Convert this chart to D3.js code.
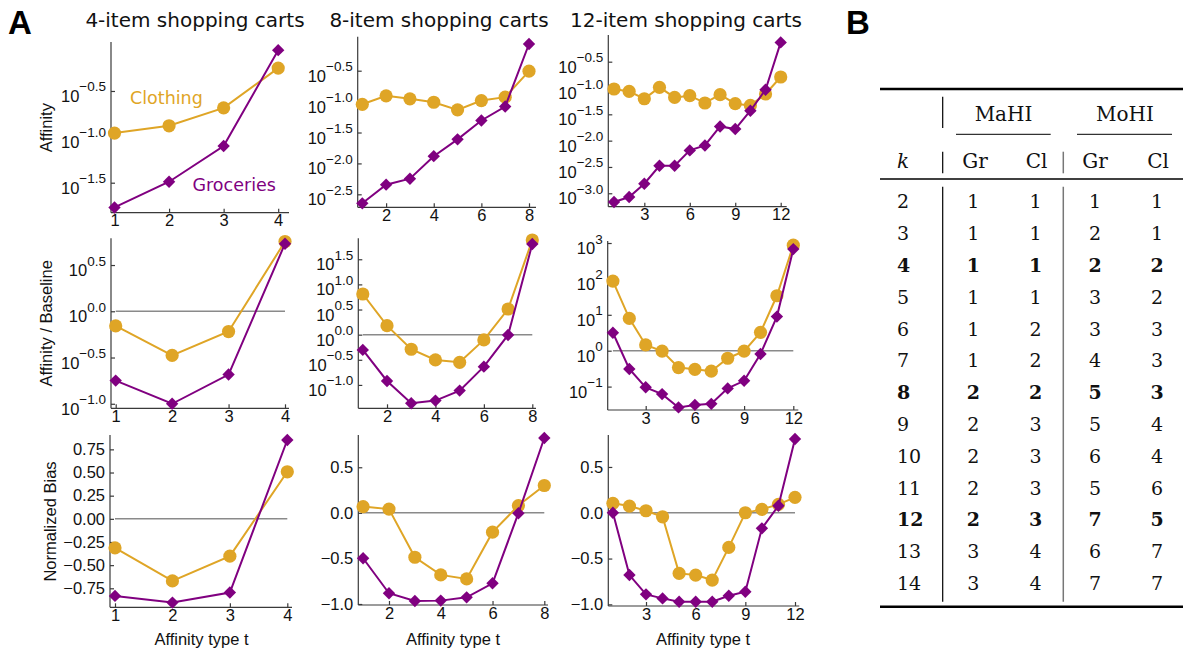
<!DOCTYPE html>
<html><head><meta charset="utf-8">
<script src="https://cdn.jsdelivr.net/npm/d3@7"></script>
<style>body{margin:0;background:#fff}svg{display:block}</style>
</head><body>
<svg id="c" width="1183" height="648"></svg>
<script>
// ---------------- data ----------------
const types4 = [1, 2, 3, 4];
const types8 = [1, 2, 3, 4, 5, 6, 7, 8];
const types12 = [1, 2, 3, 4, 5, 6, 7, 8, 9, 10, 11, 12];
const cartTitles = ["4-item shopping carts", "8-item shopping carts", "12-item shopping carts"];
const rowLabels = ["Affinity", "Affinity / Baseline", "Normalized Bias"];
const seriesNames = ["Clothing", "Groceries"];

const cart4AffinityClothing = [0.110, 0.132, 0.207, 0.562];
const cart4AffinityGroceries = [0.0170, 0.0324, 0.0794, 0.881];
const cart8AffinityClothing = [0.0904, 0.124, 0.111, 0.0977, 0.0735, 0.104, 0.118, 0.311];
const cart8AffinityGroceries = [0.00226, 0.00453, 0.00566, 0.0131, 0.0245, 0.0495, 0.0832, 0.855];
const cart12AffinityClothing = [0.0957, 0.0861, 0.0625, 0.103, 0.0662, 0.0714, 0.0519, 0.0746, 0.0504, 0.0467, 0.0769, 0.162];
const cart12AffinityGroceries = [0.000681, 0.000847, 0.00152, 0.00333, 0.00333, 0.00652, 0.00811, 0.0186, 0.0166, 0.0370, 0.0929, 0.736];

const cart4RatioClothing = [0.695, 0.333, 0.604, 5.68];
const cart4RatioGroceries = [0.178, 0.100, 0.207, 5.38];
const cart8RatioClothing = [6.44, 1.51, 0.513, 0.314, 0.282, 0.785, 3.24, 76.4];
const cart8RatioGroceries = [0.497, 0.120, 0.0433, 0.0488, 0.0771, 0.231, 0.986, 63.5];
const cart12RatioClothing = [87.1, 7.94, 1.45, 0.977, 0.339, 0.302, 0.269, 0.617, 0.977, 3.24, 33.9, 871];
const cart12RatioGroceries = [3.16, 0.309, 0.0955, 0.0617, 0.0263, 0.0309, 0.0331, 0.0891, 0.145, 0.813, 8.91, 676];

const cart4BiasClothing = [-0.313, -0.670, -0.403, 0.508];
const cart4BiasGroceries = [-0.832, -0.904, -0.796, 0.851];
const cart8BiasClothing = [0.069, 0.041, -0.487, -0.681, -0.725, -0.212, 0.080, 0.300];
const cart8BiasGroceries = [-0.498, -0.882, -0.967, -0.963, -0.927, -0.773, -0.004, 0.821];
const cart12BiasClothing = [0.103, 0.073, 0.022, -0.044, -0.662, -0.680, -0.735, -0.378, 0.0, 0.037, 0.092, 0.168];
const cart12BiasGroceries = [0.0, -0.680, -0.891, -0.935, -0.972, -0.972, -0.972, -0.906, -0.862, -0.170, 0.076, 0.805];

// x tick labels
const xTicks4 = [1, 2, 3, 4];
const xTicks8 = [2, 4, 6, 8];
const xTicks12 = [3, 6, 9, 12];
// y tick labels (exponents of 10 for log panels)
const affinityExpTicks4 = [-1.5, -1.0, -0.5];
const affinityExpTicks8 = [-2.5, -2.0, -1.5, -1.0, -0.5];
const affinityExpTicks12 = [-3.0, -2.5, -2.0, -1.5, -1.0, -0.5];
const ratioExpTicks4 = [-1.0, -0.5, 0.0, 0.5];
const ratioExpTicks8 = [-1.0, -0.5, 0.0, 0.5, 1.0, 1.5];
const ratioExpTicks12 = [-1, 0, 1, 2, 3];
const biasTicks4 = [-0.75, -0.5, -0.25, 0, 0.25, 0.5, 0.75];
const biasTicks8 = [-1.0, -0.5, 0.0, 0.5];
const biasTicks12 = [-1.0, -0.5, 0.0, 0.5];

// table
const tableK = [2, 3, 4, 5, 6, 7, 8, 9, 10, 11, 12, 13, 14];
const mahiGr = [1, 1, 1, 1, 1, 1, 2, 2, 2, 2, 2, 3, 3];
const mahiCl = [1, 1, 1, 1, 2, 2, 2, 3, 3, 3, 3, 4, 4];
const mohiGr = [1, 2, 2, 3, 3, 4, 5, 5, 6, 5, 7, 6, 7];
const mohiCl = [1, 1, 2, 2, 3, 3, 3, 4, 4, 6, 5, 7, 7];
const boldK = [4, 8, 12];

// ---------------- style / layout ----------------
const GOLD = "#DFA526", PURPLE = "#800080";
const SANS = "'Liberation Sans', Arial, sans-serif";
const VERD = "'DejaVu Sans', Verdana, sans-serif";
const SERIF = "'DejaVu Serif', serif";
const AXIS = "#3a3a3a";

const svg = d3.select("#c");

const panels = [
  {t: types4, cl: cart4AffinityClothing, gr: cart4AffinityGroceries, kind: "log", yt: affinityExpTicks4, xt: xTicks4, fmt: ".1f",
   left: 111, right: 289, top: 42, bottom: 212.7, padL: 3.5, padR: 10.8, yDom: [-1.827, 0.034]},
  {t: types8, cl: cart8AffinityClothing, gr: cart8AffinityGroceries, kind: "log", yt: affinityExpTicks8, xt: xTicks8, fmt: ".1f",
   left: 357.7, right: 536, top: 36.7, bottom: 207.3, padL: 4.6, padR: 7, yDom: [-2.71, 0.05]},
  {t: types12, cl: cart12AffinityClothing, gr: cart12AffinityGroceries, kind: "log", yt: affinityExpTicks12, xt: xTicks12, fmt: ".1f",
   left: 608.3, right: 786.7, top: 35, bottom: 206.7, padL: 5.7, padR: 6, yDom: [-3.255, 0.007]},
  {t: types4, cl: cart4RatioClothing, gr: cart4RatioGroceries, kind: "log", yt: ratioExpTicks4, xt: xTicks4, fmt: ".1f", ref: 1,
   left: 111, right: 289, top: 238.3, bottom: 408.3, padL: 4.7, padR: 4, yDom: [-1.049, 0.789]},
  {t: types8, cl: cart8RatioClothing, gr: cart8RatioGroceries, kind: "log", yt: ratioExpTicks8, xt: xTicks8, fmt: ".1f", ref: 1,
   left: 358.3, right: 536, top: 238.3, bottom: 408.3, padL: 4.5, padR: 3.7, yDom: [-1.465, 1.917]},
  {t: types12, cl: cart12RatioClothing, gr: cart12RatioGroceries, kind: "log", yt: ratioExpTicks12, xt: xTicks12, fmt: "d", ref: 1,
   left: 607.7, right: 798.3, top: 241, bottom: 410, padL: 5.2, padR: 5, yDom: [-1.652, 3.056]},
  {t: types4, cl: cart4BiasClothing, gr: cart4BiasGroceries, kind: "lin", yt: biasTicks4, xt: xTicks4, fmt: ".2f", ref: 0,
   left: 110, right: 292, top: 435, bottom: 607.3, padL: 5, padR: 4.7, yDom: [-0.955, 0.905]},
  {t: types8, cl: cart8BiasClothing, gr: cart8BiasGroceries, kind: "lin", yt: biasTicks8, xt: xTicks8, fmt: ".1f", ref: 0,
   left: 358.3, right: 548, top: 435, bottom: 605, padL: 4.8, padR: 3.7, yDom: [-1.011, 0.854]},
  {t: types12, cl: cart12BiasClothing, gr: cart12BiasGroceries, kind: "lin", yt: biasTicks12, xt: xTicks12, fmt: ".1f", ref: 0,
   left: 608.3, right: 799.3, top: 435, bottom: 606, padL: 4.6, padR: 4.3, yDom: [-1.018, 0.849]},
];

const diamond = r => `M0,${-r}L${r},0L0,${r}L${-r},0Z`;

panels.forEach((p, i) => {
  const g = svg.append("g");
  const x = d3.scaleLinear().domain([1, p.t.length]).range([p.left + p.padL, p.right - p.padR]);
  let y;
  if (p.kind === "log") y = d3.scaleLog().domain([10 ** p.yDom[0], 10 ** p.yDom[1]]).range([p.bottom, p.top]);
  else y = d3.scaleLinear().domain(p.yDom).range([p.bottom, p.top]);

  // reference line
  if (p.ref !== undefined) {
    g.append("line").attr("x1", x(1)).attr("x2", x(p.t.length)).attr("y1", y(p.ref)).attr("y2", y(p.ref))
      .attr("stroke", "#8a8a8a").attr("stroke-width", 1.5);
  }

  // axes lines
  g.append("line").attr("x1", p.left).attr("x2", p.left).attr("y1", p.top).attr("y2", p.bottom)
    .attr("stroke", AXIS).attr("stroke-width", 1.2);
  g.append("line").attr("x1", p.left).attr("x2", p.right).attr("y1", p.bottom).attr("y2", p.bottom)
    .attr("stroke", AXIS).attr("stroke-width", 1.2);

  // x axis
  const xa = g.append("g").attr("transform", `translate(0,${p.bottom})`)
    .call(d3.axisBottom(x).tickValues(p.xt).tickSizeInner(-4).tickSizeOuter(0).tickPadding(2).tickFormat(d3.format("d")));
  xa.select(".domain").remove();
  xa.selectAll(".tick line").attr("stroke", AXIS).attr("stroke-width", 1.2);
  xa.selectAll(".tick text").attr("font-family", SANS).attr("font-size", 16.5).attr("fill", "#111");

  // y axis
  const yVals = p.kind === "log" ? p.yt.map(e => 10 ** e) : p.yt;
  const ya = g.append("g").attr("transform", `translate(${p.left},0)`)
    .call(d3.axisLeft(y).tickValues(yVals).tickSizeInner(-4).tickSizeOuter(0).tickPadding(5)
      .tickFormat(p.kind === "log" ? (() => "") : d3.format(p.fmt)));
  ya.select(".domain").remove();
  ya.selectAll(".tick line").attr("stroke", AXIS).attr("stroke-width", 1.2);
  ya.selectAll(".tick text").attr("font-family", SANS).attr("font-size", 16.5).attr("fill", "#111");
  if (p.kind === "log") {
    const f = d3.format(p.fmt);
    ya.selectAll(".tick text").each(function (d, k) {
      const t = d3.select(this).attr("dy", null).attr("y", 10.5);
      t.text("");
      t.append("tspan").text("10");
      t.append("tspan").attr("dy", -10.5).attr("font-size", 13.5).text(f(p.yt[k]));
    });
  }

  // series
  const line = d3.line().x((d, k) => x(p.t[k])).y(d => y(d));
  [[p.cl, GOLD, "c"], [p.gr, PURPLE, "d"]].forEach(([vals, col, shape]) => {
    g.append("path").datum(vals).attr("d", line).attr("fill", "none").attr("stroke", col).attr("stroke-width", 2);
    if (shape === "c") {
      g.selectAll(null).data(vals).join("circle").attr("cx", (d, k) => x(p.t[k])).attr("cy", d => y(d))
        .attr("r", 6.6).attr("fill", col);
    } else {
      g.selectAll(null).data(vals).join("path").attr("d", diamond(6.2))
        .attr("transform", (d, k) => `translate(${x(p.t[k])},${y(d)})`).attr("fill", col);
    }
  });

  if (i === 0) {
    g.append("text").attr("x", 130).attr("y", 104).attr("font-family", VERD).attr("font-size", 17.5)
      .attr("fill", GOLD).text(seriesNames[0]);
    g.append("text").attr("x", 192.5).attr("y", 190.7).attr("font-family", VERD).attr("font-size", 17.5)
      .attr("fill", PURPLE).text(seriesNames[1]);
  }
});

// titles
const titleX = [195, 439, 686];
cartTitles.forEach((t, i) => {
  svg.append("text").attr("x", titleX[i]).attr("y", 27).attr("text-anchor", "middle")
    .attr("font-family", VERD).attr("font-size", 20).attr("fill", "#111").text(t);
});
// row labels
const rowLabelPos = [[52, 127.7], [52, 323.3], [56, 521.5]];
rowLabels.forEach((t, i) => {
  svg.append("text").attr("transform", `translate(${rowLabelPos[i][0]},${rowLabelPos[i][1]}) rotate(-90)`)
    .attr("text-anchor", "middle").attr("font-family", SANS).attr("font-size", 16.5).attr("fill", "#111").text(t);
});
// x labels
[201.5, 453, 703].forEach(cx => {
  svg.append("text").attr("x", cx).attr("y", 645).attr("text-anchor", "middle")
    .attr("font-family", SANS).attr("font-size", 16.5).attr("fill", "#111").text("Affinity type t");
});
// panel letters
svg.append("text").attr("x", 8).attr("y", 33.5).attr("font-family", SANS).attr("font-weight", "bold")
  .attr("font-size", 33).text("A");
svg.append("text").attr("x", 846).attr("y", 33.5).attr("font-family", SANS).attr("font-weight", "bold")
  .attr("font-size", 33).text("B");

// ---------------- table ----------------
const tb = svg.append("g").attr("font-family", SERIF).attr("fill", "#111");
const rule = (x1, x2, yy, w, c) => tb.append("line").attr("x1", x1).attr("x2", x2).attr("y1", yy).attr("y2", yy)
  .attr("stroke", c || "#000").attr("stroke-width", w);
const vrule = (xx, y1, y2, w, c) => tb.append("line").attr("x1", xx).attr("x2", xx).attr("y1", y1).attr("y2", y2)
  .attr("stroke", c || "#000").attr("stroke-width", w);
rule(880, 1183, 89, 2.5);
rule(956, 1050.7, 134.3, 1);
rule(1077, 1172, 134.3, 1);
rule(880, 1183, 179, 1.4);
rule(880, 1183, 606.7, 2.5);
vrule(942.7, 96.7, 128, 1.2);
vrule(942.7, 151.7, 173.3, 1.2);
vrule(1063.3, 151.7, 173.3, 1.5, "#777");
vrule(942.7, 186.7, 601.7, 1.2);
vrule(1063.3, 186.7, 601.7, 1.5, "#777");

const colX = [973.3, 1035.5, 1095, 1157];
tb.append("text").attr("x", 1003.5).attr("y", 121).attr("text-anchor", "middle").attr("font-size", 20).text("MaHI");
tb.append("text").attr("x", 1125).attr("y", 121).attr("text-anchor", "middle").attr("font-size", 20).text("MoHI");
tb.append("text").attr("x", 897).attr("y", 168.3).attr("font-style", "italic").attr("font-size", 20).text("k");
["Gr", "Cl", "Gr", "Cl"].forEach((h, j) => {
  tb.append("text").attr("x", [975, 1036.5, 1095, 1158][j]).attr("y", 168.3).attr("text-anchor", "middle")
    .attr("font-size", 20).text(h);
});
const rowY = d3.scaleLinear().domain([0, tableK.length - 1]).range([208.3, 590]);
tableK.forEach((k, r) => {
  const bold = boldK.includes(k) ? "bold" : "normal";
  tb.append("text").attr("x", 897).attr("y", rowY(r)).attr("font-size", 19).attr("font-weight", bold).text(k);
  [mahiGr, mahiCl, mohiGr, mohiCl].forEach((col, j) => {
    tb.append("text").attr("x", colX[j]).attr("y", rowY(r)).attr("text-anchor", "middle")
      .attr("font-size", 19).attr("font-weight", bold).text(col[r]);
  });
});
</script>
</body></html>
